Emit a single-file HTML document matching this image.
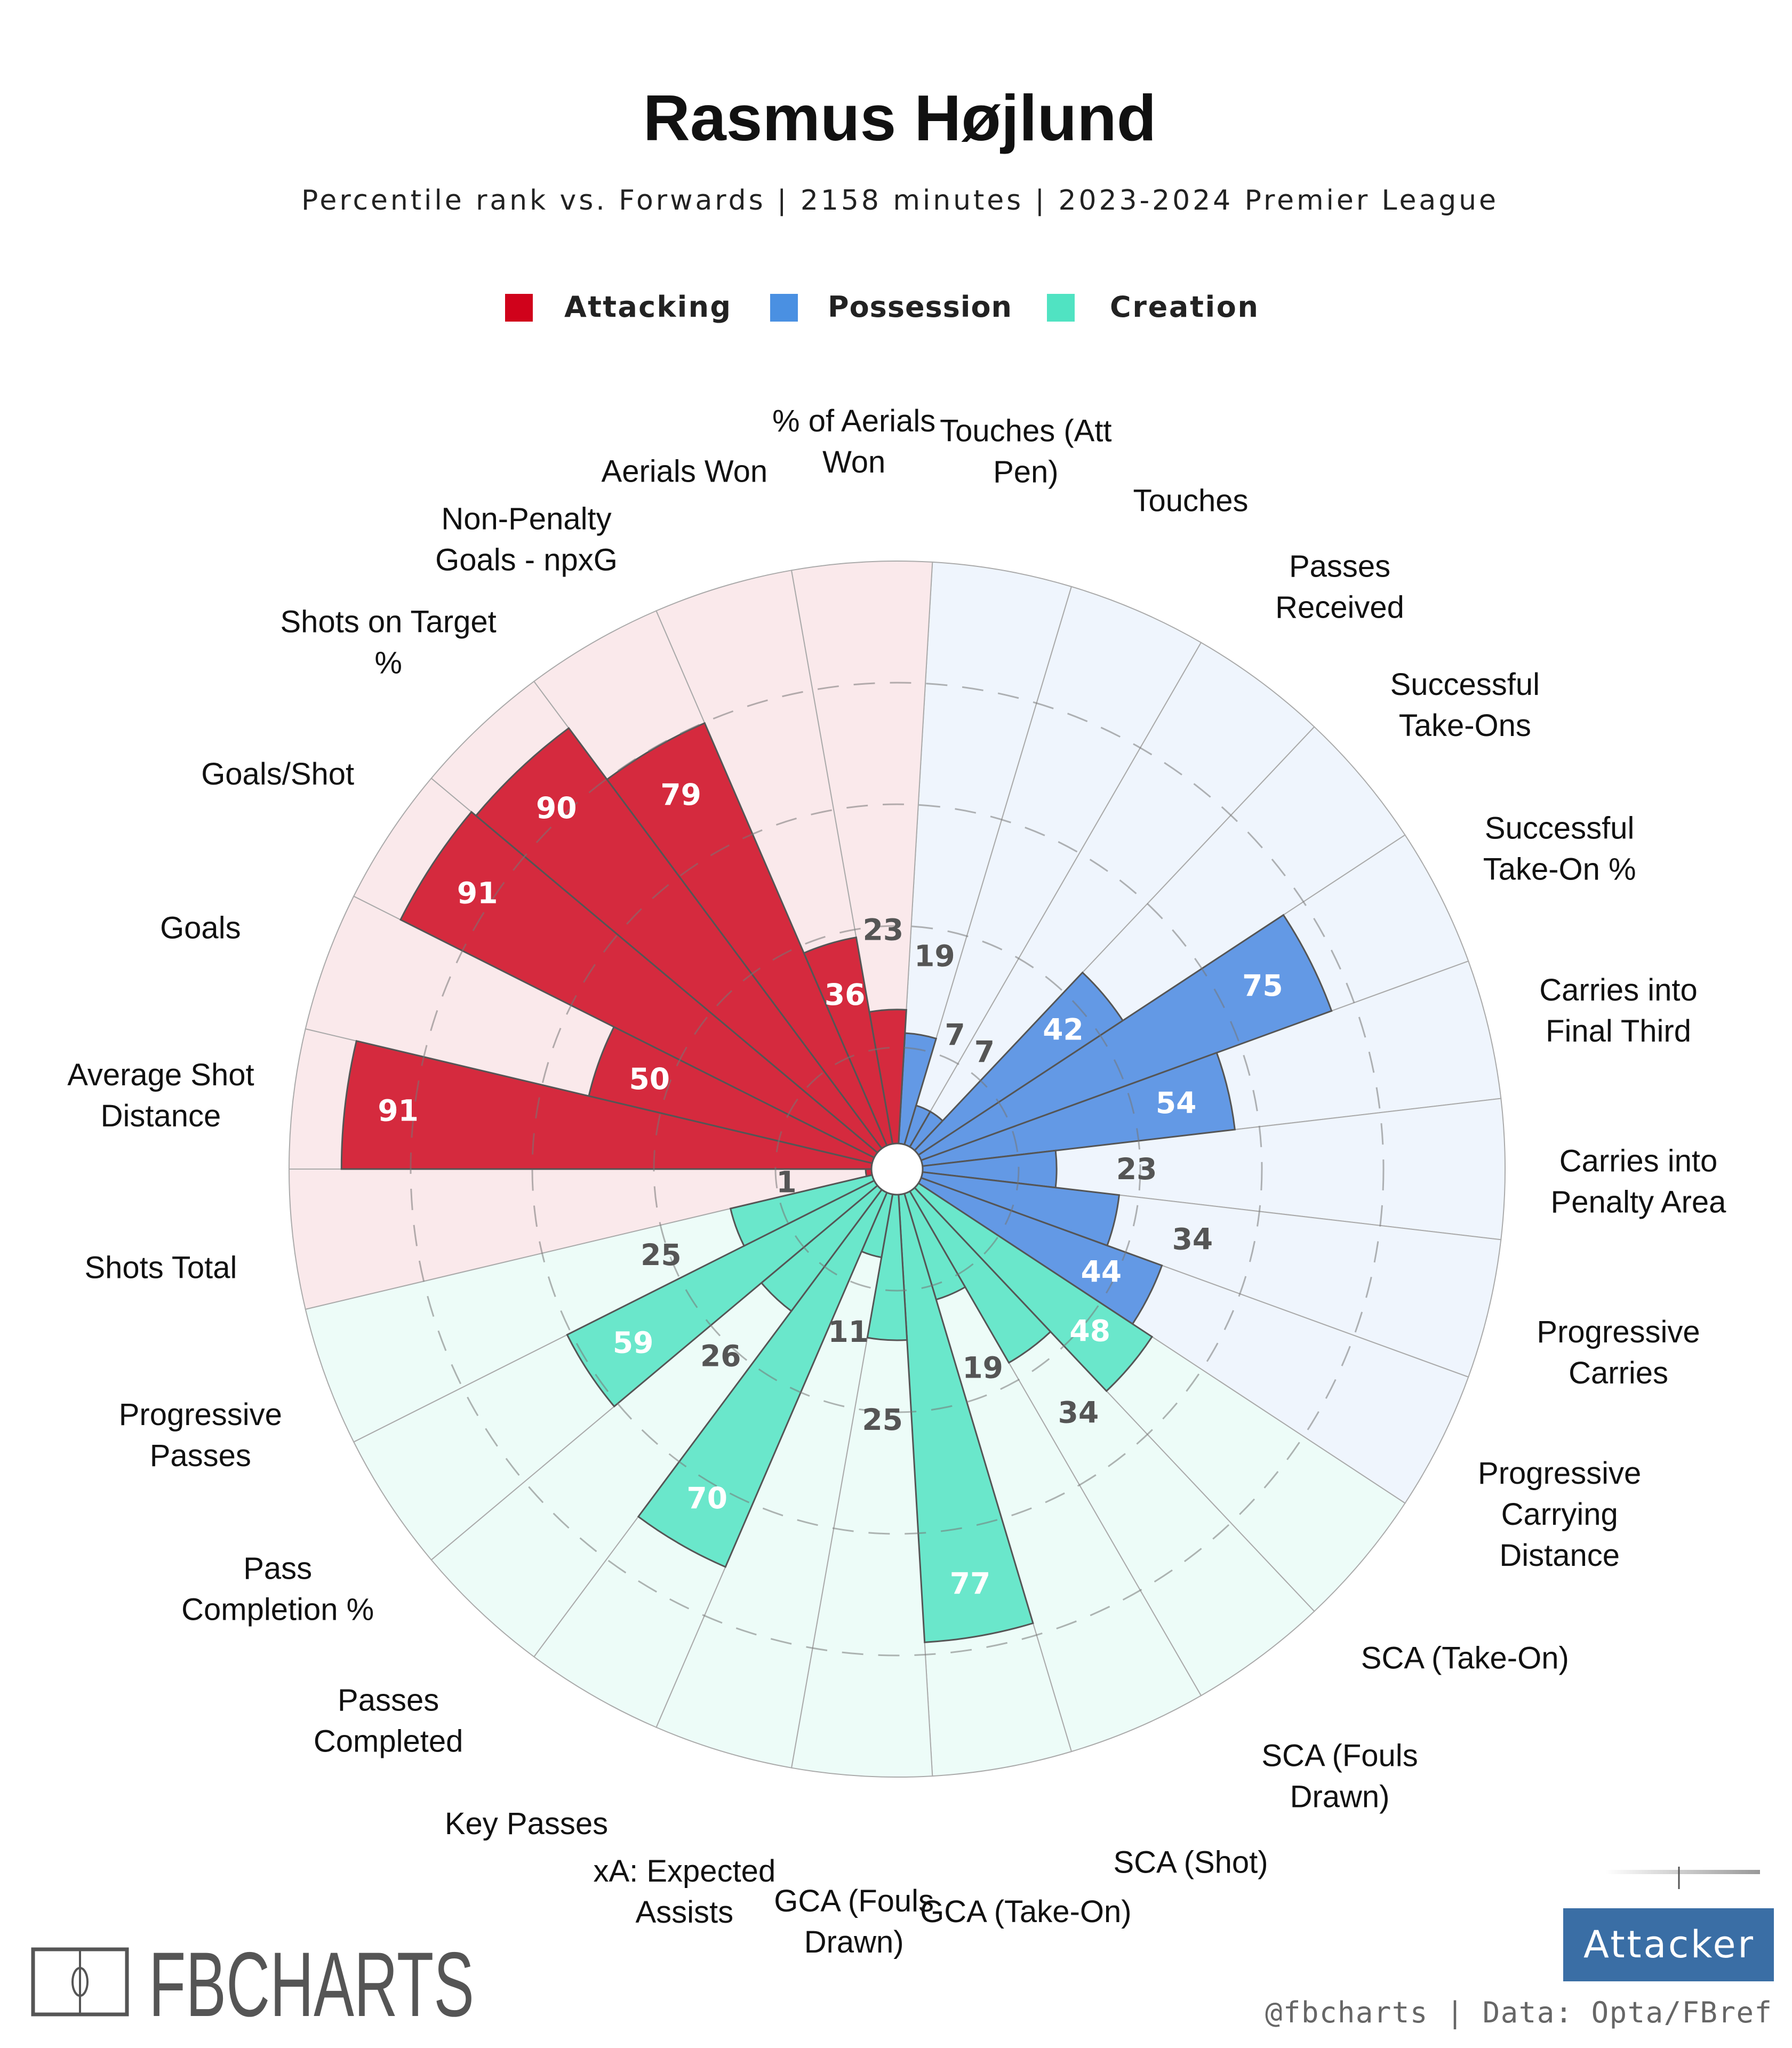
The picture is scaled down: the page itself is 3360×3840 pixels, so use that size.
<!DOCTYPE html>
<html><head><meta charset="utf-8"><style>
html,body{margin:0;padding:0;background:#fff;}
svg{display:block;}
</style></head><body>
<svg id="chart" width="3360" height="3840" viewBox="0 0 3360 3840" xmlns="http://www.w3.org/2000/svg">
<rect width="3360" height="3840" fill="#fff"/>
<text x="1687" y="263" text-anchor="middle" font-family="Liberation Sans, sans-serif" font-weight="bold" font-size="122" fill="#111">Rasmus Højlund</text>
<text x="1685" y="393" text-anchor="middle" font-family="DejaVu Sans, sans-serif" font-size="52" fill="#222" textLength="2240" lengthAdjust="spacing">Percentile rank vs. Forwards | 2158 minutes | 2023-2024 Premier League</text>
<g>
<g>
<rect x="947" y="551" width="52" height="52" fill="#d0021b"/>
<text x="1058" y="594" font-family="DejaVu Sans, sans-serif" font-weight="bold" font-size="54" fill="#222" textLength="312" lengthAdjust="spacing">Attacking</text></g>
<g>
<rect x="1444" y="551" width="52" height="52" fill="#4a90e2"/>
<text x="1552" y="594" font-family="DejaVu Sans, sans-serif" font-weight="bold" font-size="54" fill="#222" textLength="345" lengthAdjust="spacing">Possession</text></g>
<g>
<rect x="1963" y="551" width="52" height="52" fill="#50e3c2"/>
<text x="2081" y="594" font-family="DejaVu Sans, sans-serif" font-weight="bold" font-size="54" fill="#222" textLength="278" lengthAdjust="spacing">Creation</text></g>
</g>
<g id="plot"></g>
<g>
<rect x="62" y="3655" width="176" height="122" fill="none" stroke="#555" stroke-width="7"/>
<line x1="150" y1="3655" x2="150" y2="3777" stroke="#555" stroke-width="4"/>
<ellipse cx="150" cy="3716" rx="14" ry="26" fill="none" stroke="#555" stroke-width="4"/>
<text x="279" y="3780" font-family="Liberation Sans Narrow, Liberation Sans, sans-serif" font-size="172" fill="#555" textLength="610" lengthAdjust="spacingAndGlyphs">FBCHARTS</text>
</g>
<g>
<defs><linearGradient id="fade" x1="0" x2="1"><stop offset="0" stop-color="#fff"/><stop offset="1" stop-color="#999"/></linearGradient></defs>
<rect x="3010" y="3506" width="290" height="8" fill="url(#fade)"/>
<line x1="3148" y1="3500" x2="3148" y2="3542" stroke="#555" stroke-width="3"/>
</g>
<g>
<rect x="2931" y="3578" width="395" height="137" fill="#3a6ea5"/>
<text x="3128" y="3670" text-anchor="middle" font-family="DejaVu Sans, sans-serif" font-size="70" fill="#fff" textLength="318" lengthAdjust="spacing">Attacker</text>
</g>
<text x="3322" y="3792" text-anchor="end" font-family="DejaVu Sans Mono, monospace" font-size="54" fill="#666" textLength="950" lengthAdjust="spacing">@fbcharts | Data: Opta/FBref</text>
</svg>
<script>
const categories = ["Touches (Att|Pen)","Touches","Passes|Received","Successful|Take-Ons","Successful|Take-On %","Carries into|Final Third","Carries into|Penalty Area","Progressive|Carries","Progressive|Carrying|Distance","SCA (Take-On)","SCA (Fouls|Drawn)","SCA (Shot)","GCA (Take-On)","GCA (Fouls|Drawn)","xA: Expected|Assists","Key Passes","Passes|Completed","Pass|Completion %","Progressive|Passes","Shots Total","Average Shot|Distance","Goals","Goals/Shot","Shots on Target|%","Non-Penalty|Goals - npxG","Aerials Won","% of Aerials|Won"];
const values = [19,7,7,42,75,54,23,34,44,48,34,19,77,25,11,70,26,59,25,1,91,50,91,90,79,36,23];
const groups = ["pos","pos","pos","pos","pos","pos","pos","pos","pos","cre","cre","cre","cre","cre","cre","cre","cre","cre","cre","att","att","att","att","att","att","att","att"];
const ringTicks = [20,40,60,80];

const NS = "http://www.w3.org/2000/svg";
const plot = document.getElementById('plot');
const cx = 1682, cy = 2192, R0 = 48, R1 = 1140;
const startAngle = 10/3;
const n = categories.length, step = 360 / n;
const barColor = {att:"#d52a3e", pos:"#6399e5", cre:"#6ae7cb"};
const bgColor = {att:"#fae9eb", pos:"#eff5fd", cre:"#edfcf8"};
function rScale(v){ return R0 + v/100*(R1-R0); }
function pt(r, a){ const t = a*Math.PI/180; return [cx + r*Math.sin(t), cy - r*Math.cos(t)]; }
function wedge(r0, r1, a0, a1){
  const p1=pt(r0,a0), p2=pt(r1,a0), p3=pt(r1,a1), p4=pt(r0,a1);
  return `M${p1[0]},${p1[1]} L${p2[0]},${p2[1]} A${r1},${r1} 0 0 1 ${p3[0]},${p3[1]} L${p4[0]},${p4[1]} A${r0},${r0} 0 0 0 ${p1[0]},${p1[1]} Z`;
}
function mk(tag, attrs){ const e=document.createElementNS(NS,tag); for(const k in attrs) e.setAttribute(k, attrs[k]); return e; }

for(let i=0;i<n;i++){
  const a0 = startAngle + i*step, a1 = a0+step;
  const bg = mk('path',{d:wedge(R0,R1,a0,a1), fill:bgColor[groups[i]], stroke:"#aaa", "stroke-width":2});
  
  
  plot.appendChild(bg);
}
for(let i=0;i<n;i++){
  const a0 = startAngle + i*step, a1 = a0+step;
  const bar = mk('path',{d:wedge(R0,rScale(values[i]),a0,a1), fill:barColor[groups[i]], stroke:"#555", "stroke-width":3});
  
  
  plot.appendChild(bar);
}
ringTicks.forEach(t=>{
  const c = mk('circle',{cx:cx, cy:cy, r:R1*t/100, fill:"none", stroke:"#777", "stroke-opacity":0.55, "stroke-width":3, "stroke-dasharray":"40 28"});
  
  
  plot.appendChild(c);
});
const hole = mk('circle',{cx:cx, cy:cy, r:R0, fill:"#fff", stroke:"#555", "stroke-width":3});


plot.appendChild(hole);

for(let i=0;i<n;i++){
  const am = startAngle + (i+0.5)*step;
  const v = values[i];
  const inside = v >= 35;
  const r = inside ? rScale(v) - 100 : rScale(v) + 150;
  const p = pt(r, am);
  const t = mk('text',{x:p[0], y:p[1], "text-anchor":"middle", "dominant-baseline":"central", "font-family":"DejaVu Sans, Liberation Sans, sans-serif", "font-weight":"bold", "font-size":55, fill: inside ? "#fff" : "#555"});
  t.textContent = v;
  
  
  plot.appendChild(t);

  const lines = categories[i].split('|');
  const lp = pt(1390, am);
  const g = mk('text',{"text-anchor":"middle", "font-family":"Liberation Sans, sans-serif", "font-size":58, fill:"#111"});
  
  
  lines.forEach((ln,k)=>{
    const ts = mk('tspan',{x:lp[0], y: lp[1] + (k-(lines.length-1)/2)*77 + 43});
    ts.textContent = ln;
    g.appendChild(ts);
  });
  plot.appendChild(g);
}
</script>
</body></html>
